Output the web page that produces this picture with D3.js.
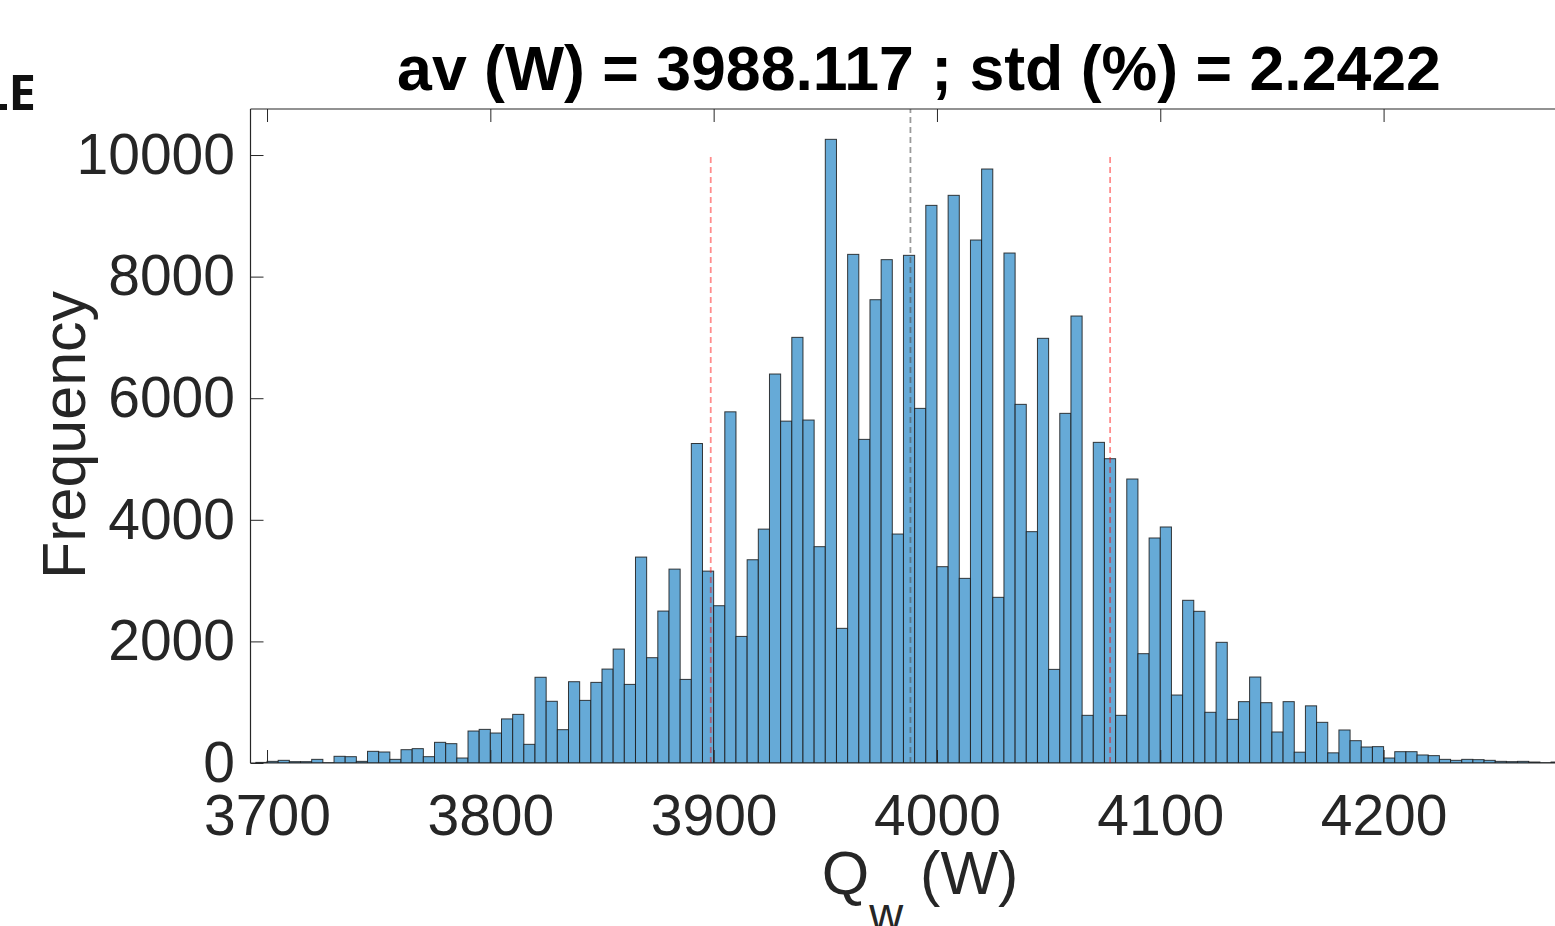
<!DOCTYPE html>
<html>
<head>
<meta charset="utf-8">
<script src="https://cdn.jsdelivr.net/npm/d3@7/dist/d3.min.js"></script>
<style>
  html, body { margin: 0; padding: 0; background: #fff; }
  svg { display: block; }
  text { font-family: "Liberation Sans", Arial, sans-serif; }
</style>
</head>
<body>
<svg id="chart" width="1555" height="926"></svg>
<script>
// ---- data ----
const binStart = 3695;           // first bin left edge (W)
const binWidth = 5;              // bin width (W)
const counts = [
  10, 27, 44, 22, 22, 60, 5, 110, 104, 27,
  192, 181, 60, 219, 236, 104, 340, 318, 82, 526,
  553, 493, 725, 800, 307, 1410, 1015, 548, 1337, 1030,
  1326, 1545, 1874, 1293, 3387, 1732, 2499, 3189, 1375, 5255,
  3156, 2587, 5776, 2082, 3343, 3847, 6398, 5623, 7001, 5641,
  3558, 10258, 2215, 8366, 5323, 7620, 8279, 3766, 8350, 5833,
  9172, 3229, 9337, 3037, 8602, 9770, 2725, 8388, 5899, 3805,
  6985, 1540, 5751, 7352, 784, 5274, 5005, 784, 4671, 1798,
  3701, 3882, 1118, 2676, 2495, 834, 1985, 718, 1009, 1414,
  992, 510, 1009, 178, 940, 669, 167, 543, 367, 263,
  269, 82, 186, 186, 132, 121, 60, 44, 60, 55,
  44, 27, 22, 27, 16, 5, 16
];
const xTicks = [3700, 3800, 3900, 4000, 4100, 4200];
const yTicks = [0, 2000, 4000, 6000, 8000, 10000];
const meanVal = 3988.117;
const stdPct = 2.2422;
const titleText = "av (W) = 3988.117 ; std (%) = 2.2422";
const yLabel = "Frequency";

// ---- layout ----
const plot = { left: 250.5, right: 1560, top: 109, bottom: 763 };
const xDomain = [3692.6, 4279];
const yDomain = [0, 10757];

const svg = d3.select("#chart");
const x = d3.scaleLinear().domain(xDomain).range([plot.left, plot.right]);
const y = d3.scaleLinear().domain(yDomain).range([plot.bottom, plot.top]);

const bins = counts.map((c, i) => ({ x0: binStart + i * binWidth, x1: binStart + (i + 1) * binWidth, c }));

svg.append("defs").append("clipPath").attr("id", "clip")
  .append("rect")
  .attr("x", plot.left).attr("y", plot.top)
  .attr("width", plot.right - plot.left).attr("height", plot.bottom - plot.top);

const g = svg.append("g").attr("clip-path", "url(#clip)");

g.selectAll("rect.bar").data(bins).enter().append("rect")
  .attr("class", "bar")
  .attr("x", d => x(d.x0))
  .attr("width", d => x(d.x1) - x(d.x0))
  .attr("y", d => y(d.c))
  .attr("height", d => y(0) - y(d.c))
  .attr("fill", "#66aad7")
  .attr("stroke", "#1a1a1a")
  .attr("stroke-opacity", 0.85)
  .attr("stroke-width", 1);

// mean and +/- std lines
const sd = meanVal * stdPct / 100;
g.append("line")
  .attr("x1", x(meanVal)).attr("x2", x(meanVal))
  .attr("y1", y(0)).attr("y2", y(yDomain[1]))
  .attr("stroke", "#555").attr("stroke-opacity", 0.6)
  .attr("stroke-width", 1.8).attr("stroke-dasharray", "6,4");
[meanVal - sd, meanVal + sd].forEach(v => {
  g.append("line")
    .attr("x1", x(v)).attr("x2", x(v))
    .attr("y1", y(0)).attr("y2", y(10000))
    .attr("stroke", "#ff0000").attr("stroke-opacity", 0.45)
    .attr("stroke-width", 1.8).attr("stroke-dasharray", "6,4");
});

// ---- axes ----
const axisColor = "#262626";
const tickFont = 57;
const xAxis = svg.append("g").attr("transform", `translate(0,${plot.bottom})`)
  .call(d3.axisBottom(x).tickValues(xTicks).tickFormat(d3.format("d"))
    .tickSizeInner(-13).tickSizeOuter(0).tickPadding(32));
const xTop = svg.append("g").attr("transform", `translate(0,${plot.top})`)
  .call(d3.axisTop(x).tickValues(xTicks).tickFormat("")
    .tickSizeInner(-13).tickSizeOuter(0));
const yAxis = svg.append("g").attr("transform", `translate(${plot.left},0)`)
  .call(d3.axisLeft(y).tickValues(yTicks).tickFormat(d3.format("d"))
    .tickSizeInner(-13).tickSizeOuter(0).tickPadding(15.5));

[xAxis, xTop, yAxis].forEach(a => {
  a.select(".domain").attr("stroke", axisColor).attr("stroke-width", 1.2);
  a.selectAll(".tick line").attr("stroke", axisColor).attr("stroke-width", 1);
  a.selectAll(".tick text").attr("fill", axisColor)
    .style("font-family", '"Liberation Sans", Arial, sans-serif')
    .style("font-size", tickFont + "px");
});
xAxis.select(".domain").attr("d", `M${plot.left},0H${plot.right}`);
xTop.select(".domain").attr("d", `M${plot.left},0H${plot.right}`);
yAxis.select(".domain").attr("d", `M0,${plot.top}V${plot.bottom}`);

// ---- labels ----
svg.append("text")
  .attr("x", 919).attr("y", 90)
  .attr("text-anchor", "middle")
  .attr("font-weight", "bold")
  .attr("font-size", "62.6px")
  .attr("fill", "#000")
  .text(titleText);

const xl = svg.append("text")
  .attr("x", 920).attr("y", 894)
  .attr("text-anchor", "middle")
  .attr("font-size", "61px")
  .attr("fill", axisColor);
xl.append("tspan").text("Q");
xl.append("tspan").attr("dy", 36).attr("font-size", "47px").text("w");
xl.append("tspan").attr("dy", -36).text(" (W)");

svg.append("text")
  .attr("transform", "translate(85,435) rotate(-90)")
  .attr("text-anchor", "middle")
  .attr("font-size", "61px")
  .attr("fill", axisColor)
  .text(yLabel);

// cropped panel letter at top-left
svg.append("text")
  .attr("x", 36).attr("y", 110)
  .attr("text-anchor", "end")
  .attr("font-weight", "bold")
  .attr("font-size", "49px")
  .style("font-family", '"Open Sans", sans-serif')
  .attr("fill", "#111")
  .text("LE");
</script>
</body>
</html>
